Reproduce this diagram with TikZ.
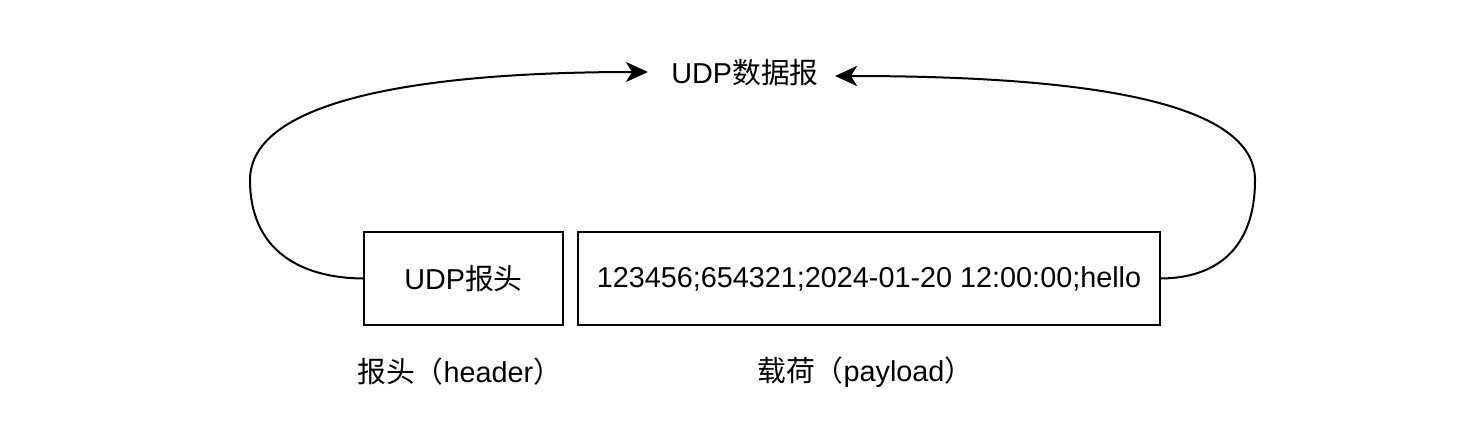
\documentclass[tikz,border=0pt]{standalone}
\usepackage{fontspec}
\setmainfont{Liberation Sans}
\newfontfamily\cjk{Noto Sans CJK SC}
\usetikzlibrary{arrows.meta}
\begin{document}
\begin{tikzpicture}[x=1pt,y=-1pt,
  box/.style={draw,line width=2pt,inner sep=0pt},
  lbl/.style={font=\fontsize{28.8}{34}\selectfont,inner sep=0pt},
  conn/.style={line width=2pt,-{Stealth[length=22pt,width=20pt,inset=6pt]}}]
\useasboundingbox (0,0) rectangle (1478,431);
\node[box,minimum width=199pt,minimum height=93pt] (hdr) at (463.5,278.5) {};
\node[lbl] at (hdr.center) {UDP{\cjk 报头}};
\node[box,minimum width=582pt,minimum height=93pt] (pay) at (869,278.5) {};
\node[lbl] at (pay.center) {123456;654321;2024-01-20 12:00:00;hello};
\node[lbl] (udp) at (745,73) {UDP{\cjk 数据报}};
\node[lbl,anchor=west] (hl) at (357,372) {{\cjk 报头（}header{\cjk ）}};
\node[lbl,anchor=west] (pl) at (757,372) {{\cjk 载荷（}payload{\cjk ）}};
\coordinate (lt) at (250,180);
\coordinate (rt) at (1255,180);
\coordinate (tipl) at (648,72);
\coordinate (tipr) at (835,76);
\draw[conn] (hdr.west) .. controls (300,278) and (250,250) .. (lt)
  .. controls (250,100) and (420,72) .. (tipl);
\draw[conn] (pay.east) .. controls (1215,278) and (1255,250) .. (rt)
  .. controls (1255,100) and (1080,76) .. (tipr);
\end{tikzpicture}
\end{document}
